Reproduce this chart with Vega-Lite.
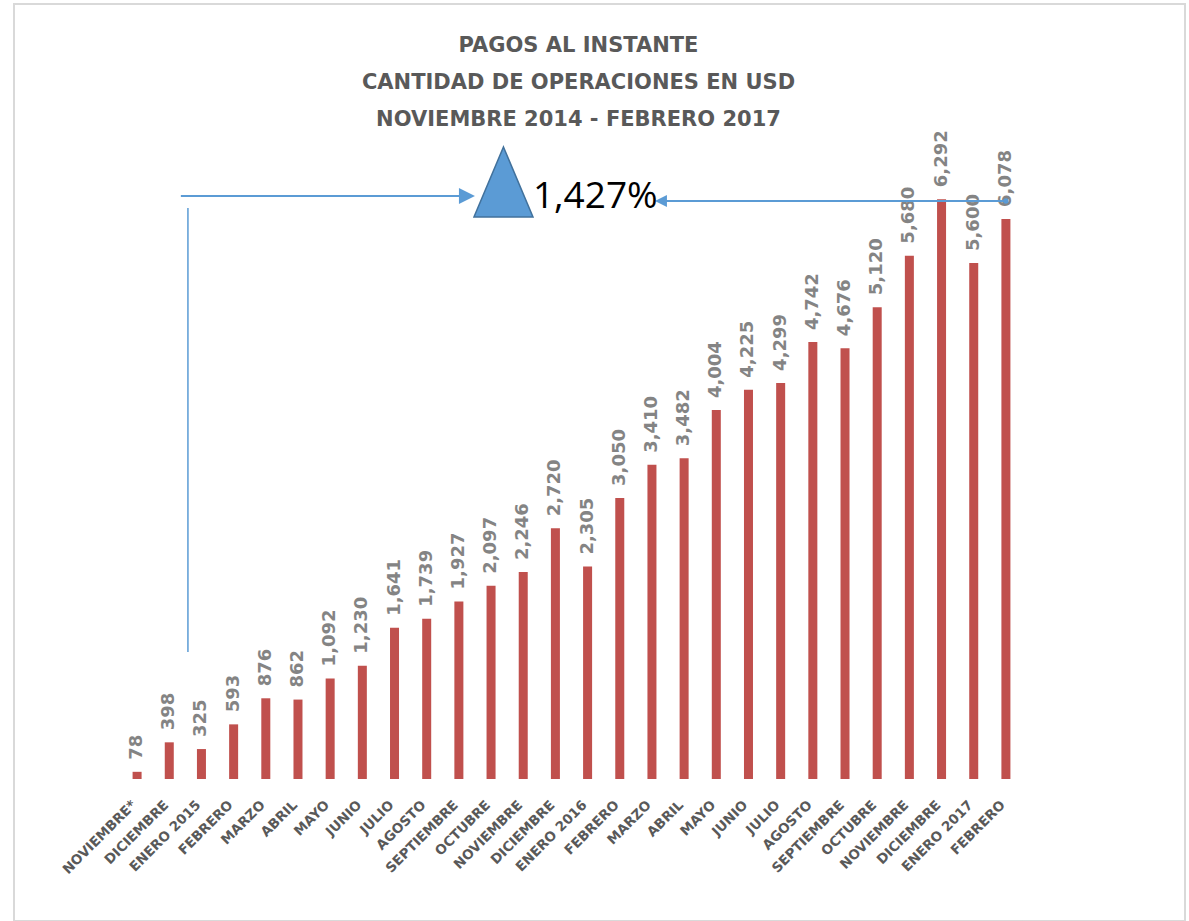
{
  "$schema": "https://vega.github.io/schema/vega-lite/v6.json",
  "width": 1171,
  "height": 917,
  "autosize": {"type": "none"},
  "padding": {"left": 14, "top": 4, "right": 4, "bottom": 0},
  "background": "white",
  "title": {
    "text": ["PAGOS AL INSTANTE", "CANTIDAD DE OPERACIONES EN USD", "NOVIEMBRE 2014 - FEBRERO 2017"],
    "anchor": "middle",
    "frame": "group",
    "baseline": "top",
    "offset": -126,
    "dx": -21,
    "font": "DejaVu Sans",
    "fontWeight": "bold",
    "fontSize": 21,
    "lineHeight": 37,
    "color": "#595959"
  },
  "config": {"view": {"stroke": "#D9D9D9", "strokeWidth": 2}},
  "datasets": {
    "meses": [
      {"fecha": "2014-11", "mes": "NOVIEMBRE*", "operaciones": 78},
      {"fecha": "2014-12", "mes": "DICIEMBRE", "operaciones": 398},
      {"fecha": "2015-01", "mes": "ENERO 2015", "operaciones": 325},
      {"fecha": "2015-02", "mes": "FEBRERO", "operaciones": 593},
      {"fecha": "2015-03", "mes": "MARZO", "operaciones": 876},
      {"fecha": "2015-04", "mes": "ABRIL", "operaciones": 862},
      {"fecha": "2015-05", "mes": "MAYO", "operaciones": 1092},
      {"fecha": "2015-06", "mes": "JUNIO", "operaciones": 1230},
      {"fecha": "2015-07", "mes": "JULIO", "operaciones": 1641},
      {"fecha": "2015-08", "mes": "AGOSTO", "operaciones": 1739},
      {"fecha": "2015-09", "mes": "SEPTIEMBRE", "operaciones": 1927},
      {"fecha": "2015-10", "mes": "OCTUBRE", "operaciones": 2097},
      {"fecha": "2015-11", "mes": "NOVIEMBRE", "operaciones": 2246},
      {"fecha": "2015-12", "mes": "DICIEMBRE", "operaciones": 2720},
      {"fecha": "2016-01", "mes": "ENERO 2016", "operaciones": 2305},
      {"fecha": "2016-02", "mes": "FEBRERO", "operaciones": 3050},
      {"fecha": "2016-03", "mes": "MARZO", "operaciones": 3410},
      {"fecha": "2016-04", "mes": "ABRIL", "operaciones": 3482},
      {"fecha": "2016-05", "mes": "MAYO", "operaciones": 4004},
      {"fecha": "2016-06", "mes": "JUNIO", "operaciones": 4225},
      {"fecha": "2016-07", "mes": "JULIO", "operaciones": 4299},
      {"fecha": "2016-08", "mes": "AGOSTO", "operaciones": 4742},
      {"fecha": "2016-09", "mes": "SEPTIEMBRE", "operaciones": 4676},
      {"fecha": "2016-10", "mes": "OCTUBRE", "operaciones": 5120},
      {"fecha": "2016-11", "mes": "NOVIEMBRE", "operaciones": 5680},
      {"fecha": "2016-12", "mes": "DICIEMBRE", "operaciones": 6292},
      {"fecha": "2017-01", "mes": "ENERO 2017", "operaciones": 5600},
      {"fecha": "2017-02", "mes": "FEBRERO", "operaciones": 6078}
    ]
  },
  "layer": [
    {
      "data": {"name": "meses"},
      "encoding": {
        "x": {
          "field": "fecha",
          "type": "nominal",
          "sort": null,
          "scale": {"range": [107, 1008], "paddingInner": 0.72, "paddingOuter": 0.36},
          "axis": {"title": null, "labels": false, "ticks": false, "domainColor": "#D9D9D9", "domainWidth": 1.5, "grid": false}
        },
        "y": {
          "field": "operaciones",
          "type": "quantitative",
          "scale": {"domain": [0, 7000], "range": [775, 130], "nice": false, "zero": true},
          "axis": null
        }
      },
      "layer": [
        {"mark": {"type": "bar", "color": "#C0504D"}},
        {
          "mark": {"type": "text", "angle": 270, "align": "left", "baseline": "middle", "dx": 12, "font": "DejaVu Sans", "fontWeight": "bold", "fontSize": 18, "color": "#848484"},
          "encoding": {"text": {"field": "operaciones", "type": "quantitative", "format": ",d"}}
        },
        {
          "mark": {"type": "text", "angle": 315, "align": "right", "baseline": "middle", "dx": -19, "dy": 15, "font": "DejaVu Sans", "fontWeight": "bold", "fontSize": 13.5, "color": "#595959"},
          "encoding": {
            "y": {"datum": 0, "type": "quantitative", "scale": {"domain": [0, 7000], "range": [775, 130], "nice": false}},
            "text": {"field": "mes", "type": "nominal"}
          }
        }
      ]
    },
    {
      "layer": [
        {
          "data": {"values": [
            {"tramo": "izquierda", "x": 1.86, "x2": 10.78, "y": 6327},
            {"tramo": "derecha", "x": 16.75, "x2": 27.5, "y": 6273}
          ]},
          "mark": {"type": "rule", "color": "#5B9BD5", "strokeWidth": 2},
          "encoding": {
            "x": {"field": "x", "type": "quantitative", "scale": {"domain": [0, 28], "range": [107, 1008], "nice": false, "zero": false}, "axis": null},
            "x2": {"field": "x2"},
            "y": {"field": "y", "type": "quantitative", "scale": {"domain": [0, 7000], "range": [775, 130], "nice": false}, "axis": null}
          }
        },
        {
          "data": {"values": [{"tramo": "vertical", "x": 2.08, "y": 6197, "y2": 1378}]},
          "mark": {"type": "rule", "color": "#5B9BD5", "strokeWidth": 1.5},
          "encoding": {
            "x": {"field": "x", "type": "quantitative", "scale": {"domain": [0, 28], "range": [107, 1008], "nice": false, "zero": false}, "axis": null},
            "y": {"field": "y", "type": "quantitative", "scale": {"domain": [0, 7000], "range": [775, 130], "nice": false}, "axis": null},
            "y2": {"field": "y2"}
          }
        },
        {
          "data": {"values": [{"punta": "derecha", "x": 10.75, "y": 6327}]},
          "mark": {"type": "point", "shape": "M-1,-1L1,0L-1,1Z", "size": 256, "filled": true, "color": "#5B9BD5", "opacity": 1},
          "encoding": {
            "x": {"field": "x", "type": "quantitative", "scale": {"domain": [0, 28], "range": [107, 1008], "nice": false, "zero": false}, "axis": null},
            "y": {"field": "y", "type": "quantitative", "scale": {"domain": [0, 7000], "range": [775, 130], "nice": false}, "axis": null}
          }
        },
        {
          "data": {"values": [{"punta": "izquierda", "x": 16.78, "y": 6273}]},
          "mark": {"type": "point", "shape": "M1,-1L-1,0L1,1Z", "size": 144, "filled": true, "color": "#5B9BD5", "opacity": 1},
          "encoding": {
            "x": {"field": "x", "type": "quantitative", "scale": {"domain": [0, 28], "range": [107, 1008], "nice": false, "zero": false}, "axis": null},
            "y": {"field": "y", "type": "quantitative", "scale": {"domain": [0, 7000], "range": [775, 130], "nice": false}, "axis": null}
          }
        },
        {
          "data": {"values": [{"punta": "origen", "x": 27.5, "y": 6273}]},
          "mark": {"type": "point", "shape": "circle", "size": 30, "filled": true, "color": "#5B9BD5", "opacity": 1},
          "encoding": {
            "x": {"field": "x", "type": "quantitative", "scale": {"domain": [0, 28], "range": [107, 1008], "nice": false, "zero": false}, "axis": null},
            "y": {"field": "y", "type": "quantitative", "scale": {"domain": [0, 7000], "range": [775, 130], "nice": false}, "axis": null}
          }
        },
        {
          "data": {"values": [{"simbolo": "triangulo", "x": 11.886, "y": 6479}]},
          "mark": {"type": "point", "shape": "M0,-1L0.843,1L-0.843,1Z", "size": 4900, "filled": true, "fill": "#5B9BD5", "stroke": "#41719C", "strokeWidth": 1.5, "opacity": 1, "fillOpacity": 1},
          "encoding": {
            "x": {"field": "x", "type": "quantitative", "scale": {"domain": [0, 28], "range": [107, 1008], "nice": false, "zero": false}, "axis": null},
            "y": {"field": "y", "type": "quantitative", "scale": {"domain": [0, 7000], "range": [775, 130], "nice": false}, "axis": null}
          }
        },
        {
          "data": {"values": [{"variacion": "1,427%", "x": 12.8, "y": 6197}]},
          "mark": {"type": "text", "align": "left", "baseline": "alphabetic", "font": "Open Sans", "fontSize": 37, "color": "#000000"},
          "encoding": {
            "x": {"field": "x", "type": "quantitative", "scale": {"domain": [0, 28], "range": [107, 1008], "nice": false, "zero": false}, "axis": null},
            "y": {"field": "y", "type": "quantitative", "scale": {"domain": [0, 7000], "range": [775, 130], "nice": false}, "axis": null},
            "text": {"field": "variacion", "type": "nominal"}
          }
        }
      ]
    }
  ],
  "resolve": {"scale": {"x": "independent"}}
}
